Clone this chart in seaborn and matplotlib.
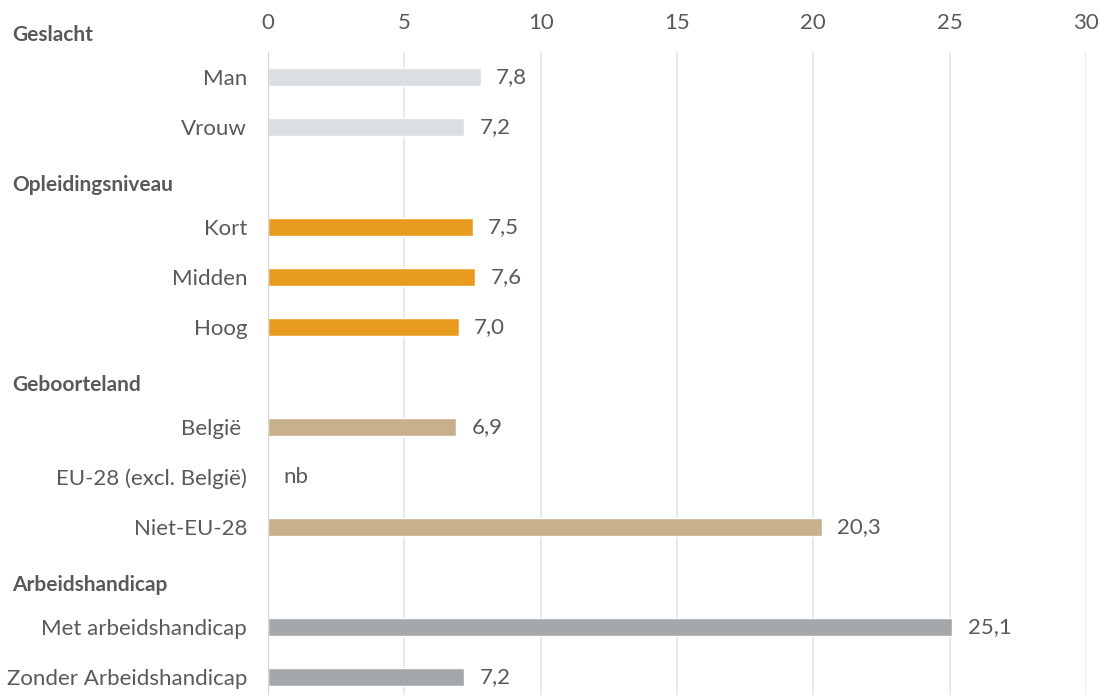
import matplotlib
matplotlib.use("Agg")
import matplotlib.pyplot as plt
import matplotlib.transforms as mtransforms
import numpy as np
import pandas as pd
import seaborn as sns

# rows top to bottom, header rows have no bar
groups = ["Geslacht", "Opleidingsniveau", "Geboorteland", "Arbeidshandicap"]
items = [
    ["Man", "Vrouw"],
    ["Kort", "Midden", "Hoog"],
    ["België ", "EU-28 (excl. België)", "Niet-EU-28"],
    ["Met arbeidshandicap", "Zonder Arbeidshandicap"],
]
values = [
    [7.8, 7.2],
    [7.5, 7.6, 7.0],
    [6.9, None, 20.3],
    [25.1, 7.2],
]
colors = {
    "Geslacht": "#dcdfe2",
    "Opleidingsniveau": "#e89c1f",
    "Geboorteland": "#c8b08d",
    "Arbeidshandicap": "#a5a8ab",
}
xticks = [0, 5, 10, 15, 20, 25, 30]

order = []
recs = []
for g, its, vals in zip(groups, items, values):
    order.append(g)
    for it, v in zip(its, vals):
        order.append(it)
        if v is not None:
            recs.append({"item": it, "val": v, "grp": g})
df = pd.DataFrame(recs)

sns.set_style("white")
plt.rcParams["font.family"] = ["Lato", "DejaVu Sans"]
txt = "#595959"
fs = 16

fig = plt.figure(figsize=(10.99, 6.95), dpi=100)
ax = fig.add_axes([268 / 1099, 0.0, (1086 - 268) / 1099, 1 - 52 / 695])

sns.barplot(data=df, x="val", y="item", hue="grp", order=order,
            palette=colors, dodge=False, width=0.36, legend=False,
            orient="h", ax=ax, saturation=1)

ax.xaxis.tick_top()
ax.set_xticks(xticks)
ax.set_xticklabels([str(t) for t in xticks], fontsize=fs, color=txt)
ax.tick_params(axis="x", pad=14, length=0)
ax.tick_params(axis="y", pad=15, length=0)
ax.set_xlabel("")
ax.set_ylabel("")
for s in ax.spines.values():
    s.set_visible(False)
ax.grid(axis="x", color="#e8e8e8", linewidth=1.3)
ax.grid(axis="y", visible=False)
ax.axvline(0, color="#d6d6d6", linewidth=1.6, zorder=3)
ax.set_axisbelow(True)

# category labels, headers drawn separately
ax.set_yticks(range(len(order)))
ax.set_yticklabels(["" if o in groups else o for o in order],
                   fontsize=fs, color=txt)
ax.set_xlim(0, 30)
ax.set_ylim(13.36, 0.5)

trans = mtransforms.blended_transform_factory(fig.transFigure, ax.transData)
for g in groups:
    pos = order.index(g)
    ax.text(12 / 1099, pos + 0.16, g, transform=trans, fontsize=15,
            fontweight="bold", color=txt, va="center", ha="left",
            clip_on=False)

# value labels
for g, its, vals in zip(groups, items, values):
    for it, v in zip(its, vals):
        pos = order.index(it)
        lab = "nb" if v is None else f"{v:.1f}".replace(".", ",")
        ax.annotate(lab, xy=(0 if v is None else v, pos),
                    xytext=(11, 0), textcoords="offset points",
                    va="center", ha="left", fontsize=fs, color=txt)

fig.savefig("out.png", dpi=100)
